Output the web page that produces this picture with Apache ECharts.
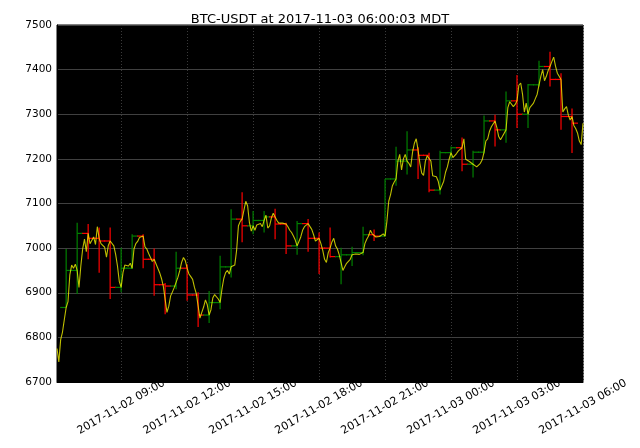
<!DOCTYPE html>
<html>
<head>
<meta charset="utf-8">
<script src="https://cdn.jsdelivr.net/npm/echarts@6/dist/echarts.min.js"></script>
<style>html,body{margin:0;padding:0;background:#fff}#chart{width:640px;height:448px}</style>
</head>
<body>
<div id="chart"></div>
<script>
// ---- data ----
const titleText = 'BTC-USDT at 2017-11-03 06:00:03 MDT';
// 5-minute price line, 2017-11-02 06:05 .. 2017-11-03 06:00
const lineStart = '2017-11-02 06:05';
const lineStepMin = 5;
const lineValues = [
  6775, 6745, 6795, 6812, 6840,
  6867, 6880, 6940, 6962, 6955, 6964,
  6950, 6912, 6960, 6998, 7020, 6992,
  7033, 7010, 7012, 7025, 7008, 7048,
  7022, 7010, 7014, 7002, 6980, 7006,
  7016, 7020, 7005, 6986, 6960, 6925,
  6912, 6945, 6962, 6962, 6960, 6966,
  6955, 6998, 7010, 7015, 7024, 7027,
  7027, 7003, 6998, 6988, 6979, 6970,
  6975, 6965, 6955, 6945, 6932, 6915,
  6918, 6856, 6870, 6893, 6902, 6912,
  6915, 6935, 6950, 6968, 6979, 6972,
  6955, 6942, 6936, 6930, 6912, 6898,
  6895, 6843, 6856, 6868, 6884, 6873,
  6850, 6862, 6888, 6896, 6893, 6886,
  6878, 6908, 6932, 6945, 6950, 6942,
  6958, 6957, 6962, 6995, 7050, 7060,
  7065, 7085, 7105, 7095, 7057, 7038,
  7050, 7040, 7052, 7050, 7055, 7048,
  7062, 7074, 7045, 7050, 7068, 7078,
  7070, 7062, 7056, 7056, 7056, 7055,
  7054, 7048, 7040, 7035, 7027, 7018,
  7005, 7015, 7025, 7040, 7048, 7045,
  7055, 7058, 7042, 7030, 7016, 7012,
  7022, 7010, 6995, 6975, 6968, 6990,
  7000, 7014, 7022, 7005, 6998, 6985,
  6981, 6950, 6958, 6966, 6970, 6975,
  6985, 6984, 6987, 6988, 6986, 6990,
  6990, 7010, 7020, 7027, 7040, 7032,
  7030, 7025, 7022, 7026, 7024, 7032,
  7027, 7060, 7105, 7120, 7140, 7148,
  7155, 7195, 7210, 7175, 7200, 7210,
  7195, 7190, 7182, 7215, 7235, 7245,
  7220, 7190, 7168, 7163, 7195, 7207,
  7208, 7195, 7162, 7158, 7160, 7150,
  7130, 7128, 7150, 7170, 7182, 7200,
  7214, 7203, 7199, 7212, 7218, 7222,
  7225, 7245, 7199, 7195, 7194, 7192,
  7188, 7186, 7182, 7184, 7190, 7198,
  7215, 7240, 7245, 7262, 7272, 7276,
  7285, 7270, 7250, 7243, 7250, 7252,
  7265, 7315, 7328, 7326, 7317, 7322,
  7330, 7365, 7370, 7345, 7305, 7325,
  7300, 7315, 7318, 7325, 7335, 7345,
  7366, 7385, 7400, 7375, 7385, 7398,
  7407, 7418, 7428, 7408, 7392, 7385,
  7378, 7305, 7312, 7317, 7298, 7287,
  7295, 7275, 7268, 7258, 7240, 7232,
  7280
];
// 30-minute OHLC bars, 2017-11-02 06:30 .. 2017-11-03 05:30 (bar time = period start)
const barStart = '2017-11-02 06:30';
const barStepMin = 30;
const barOpen  = [6867,6950,7033,7022,7016,6912,6955,7027,6975,6918,6915,6955,6895,6850,6878,6958,7065,7050,7062,7070,7054,7005,7055,7022,7000,6981,6985,6990,7030,7027,7155,7195,7220,7208,7130,7214,7225,7188,7215,7285,7265,7330,7300,7366,7407,7378,7295];
const barHigh  = [6998,7057,7054,7046,7046,7001,7031,7031,6999,6922,6992,6964,6901,6904,6983,7087,7125,7083,7083,7088,7057,7061,7065,7035,7046,7001,7003,7048,7042,7155,7227,7262,7226,7214,7218,7228,7248,7218,7297,7299,7351,7388,7368,7420,7440,7392,7313];
const barLow   = [6867,6897,6975,6945,6886,6901,6953,6955,6893,6852,6908,6882,6823,6832,6863,6934,7013,7031,7035,7020,6987,6985,6992,6942,6979,6919,6960,6984,7016,7026,7140,7165,7155,7125,7120,7199,7172,7158,7212,7228,7236,7269,7269,7362,7362,7265,7213];
const barClose = [6950,7033,7022,7016,6912,6955,7027,6975,6918,6915,6955,6895,6850,6878,6958,7065,7050,7062,7070,7054,7005,7055,7022,7000,6981,6985,6990,7030,7027,7155,7195,7220,7208,7130,7214,7225,7188,7215,7285,7265,7330,7300,7366,7407,7378,7295,7280];
const xTickLabels = ['2017-11-02 09:00', '2017-11-02 12:00', '2017-11-02 15:00', '2017-11-02 18:00',
                     '2017-11-02 21:00', '2017-11-03 00:00', '2017-11-03 03:00', '2017-11-03 06:00'];
const xMinLabel = '2017-11-02 06:05';
const xMaxLabel = '2017-11-03 06:00';
const yMin = 6700, yMax = 7500, yStep = 100;

// ---- build ----
const MIN = 60000;
function parseUTC(s) {
  const m = s.match(/(\d+)-(\d+)-(\d+) (\d+):(\d+)/);
  return Date.UTC(+m[1], +m[2] - 1, +m[3], +m[4], +m[5]);
}
const lineT0 = parseUTC(lineStart), barT0 = parseUTC(barStart);
const lineData = lineValues.map((v, i) => [lineT0 + i * lineStepMin * MIN, v]);
const barData = barOpen.map((o, i) => [barT0 + i * barStepMin * MIN, o, barHigh[i], barLow[i], barClose[i]]);
const xTickValues = xTickLabels.map(parseUTC);
const pad = n => (n < 10 ? '0' : '') + n;
function fmtTime(v) {
  const d = new Date(v);
  return d.getUTCFullYear() + '-' + pad(d.getUTCMonth() + 1) + '-' + pad(d.getUTCDate()) + ' ' + pad(d.getUTCHours()) + ':' + pad(d.getUTCMinutes());
}
const FONT = 'DejaVu Sans';
const chart = echarts.init(document.getElementById('chart'), null, { renderer: 'canvas' });
chart.setOption({
  useUTC: true,
  animation: false,
  backgroundColor: '#ffffff',
  title: {
    text: titleText, left: 'center', top: 8,
    textStyle: { fontFamily: FONT, fontSize: 13, fontWeight: 'normal', color: '#000' }
  },
  grid: {
    left: 57, right: 57, top: 25, bottom: 66,
    show: true, backgroundColor: '#000', borderColor: '#000', borderWidth: 1
  },
  xAxis: {
    type: 'value', min: parseUTC(xMinLabel), max: parseUTC(xMaxLabel),
    axisLine: { show: true, lineStyle: { color: '#000' } },
    axisTick: { show: false, customValues: xTickValues },
    splitLine: { show: true, lineStyle: { color: '#3a3a3a', type: [1, 2], width: 1 } },
    axisLabel: {
      customValues: xTickValues,
      rotate: 30, align: 'center', verticalAlign: 'middle', margin: 25,
      formatter: fmtTime, color: '#000', fontFamily: FONT, fontSize: 11
    }
  },
  yAxis: {
    type: 'value', min: yMin, max: yMax, interval: yStep,
    axisLine: { show: true, lineStyle: { color: '#000' } },
    axisTick: { show: false },
    splitLine: { show: true, lineStyle: { color: '#404040', width: 1 } },
    axisLabel: { color: '#000', fontFamily: FONT, fontSize: 10.5, margin: 5, formatter: v => String(v) }
  },
  series: [
    {
      type: 'custom', z: 2,
      encode: { x: 0, y: [1, 2, 3, 4] },
      data: barData,
      renderItem: function (params, api) {
        const t = api.value(0);
        const o = api.value(1), h = api.value(2), l = api.value(3), c = api.value(4);
        const pO = api.coord([t, o]), pH = api.coord([t, h]), pL = api.coord([t, l]), pC = api.coord([t, c]);
        const color = c >= o ? '#008000' : '#ff0000';
        const w = 6;
        const st = { stroke: color, lineWidth: 1.2 };
        return {
          type: 'group',
          children: [
            { type: 'line', shape: { x1: pH[0], y1: pH[1], x2: pL[0], y2: pL[1] }, style: st },
            { type: 'line', shape: { x1: pO[0] - w, y1: pO[1], x2: pO[0], y2: pO[1] }, style: st },
            { type: 'line', shape: { x1: pC[0], y1: pC[1], x2: pC[0] + w, y2: pC[1] }, style: st }
          ]
        };
      }
    },
    {
      type: 'line', z: 3,
      data: lineData,
      showSymbol: false, symbol: 'none',
      lineStyle: { color: 'rgba(255,255,0,0.75)', width: 1.1 },
      clip: true
    }
  ]
});
</script>
</body>
</html>
